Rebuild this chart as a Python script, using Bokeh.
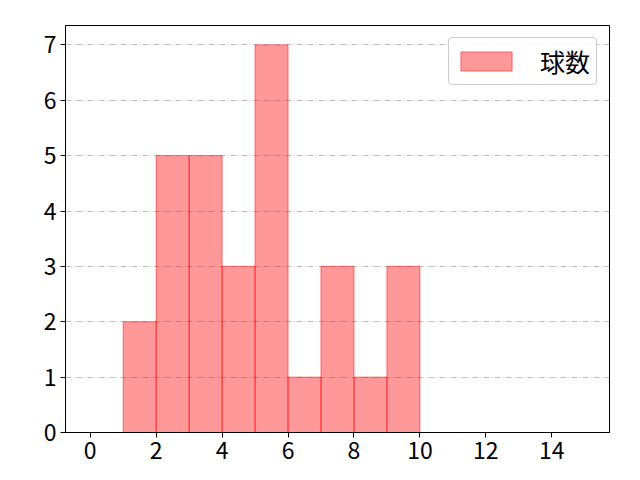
from bokeh.plotting import figure
from bokeh.embed import file_html
from bokeh.resources import INLINE
from bokeh.models import Range1d, FixedTicker, ColumnDataSource

# data
bin_left = [1, 2, 3, 4, 5, 6, 7, 8, 9]
bin_right = [2, 3, 4, 5, 6, 7, 8, 9, 10]
counts = [2, 5, 5, 3, 7, 1, 3, 1, 3]
x_ticks = [0, 2, 4, 6, 8, 10, 12, 14]
y_ticks = [0, 1, 2, 3, 4, 5, 6, 7]
label = "球数"

FONT = "Noto Sans CJK JP"

p = figure(width=632, height=472, output_backend="svg", toolbar_location=None,
           x_range=Range1d(-0.75, 15.75), y_range=Range1d(0, 7.35),
           min_border_left=65, min_border_right=23, min_border_top=25, min_border_bottom=40)

src = ColumnDataSource(dict(left=bin_left, right=bin_right, top=counts, bottom=[0]*len(counts)))
p.quad(left="left", right="right", top="top", bottom="bottom", source=src,
       fill_color="red", fill_alpha=0.4, line_color="red", line_alpha=0.5, line_width=1,
       legend_label=label)

p.outline_line_color="black"
p.outline_line_width=1
p.xgrid.grid_line_color=None
p.ygrid.grid_line_color="#b0b0b0"
p.ygrid.grid_line_dash="6 2 1 2"
p.ygrid.grid_line_width=0.8

for ax in (p.xaxis[0], p.yaxis[0]):
    ax.major_label_text_font = FONT
    ax.major_label_text_font_size = "23px"
    ax.major_label_text_color = "black"
    ax.minor_tick_line_color = None
    ax.major_tick_out = 5
    ax.major_tick_in = 0
    ax.major_label_standoff = 4
    ax.axis_line_color = "black"
    ax.major_tick_line_color = "black"
p.xaxis[0].ticker = FixedTicker(ticks=x_ticks)
p.yaxis[0].ticker = FixedTicker(ticks=y_ticks)

lg = p.legend[0]
lg.location = "top_right"
lg.label_text_font = FONT
lg.label_text_font_size = "25px"
lg.label_text_color = "black"
lg.glyph_width = 64
lg.glyph_height = 24
lg.label_height = 20
lg.label_width = 51
lg.border_line_color = "#cccccc"
lg.border_line_alpha = 1
lg.border_radius = 4
lg.padding = 5
lg.margin = 12
lg.label_standoff = 22
lg.background_fill_alpha = 0.8

open("out.html", "w").write(file_html(p, INLINE))
